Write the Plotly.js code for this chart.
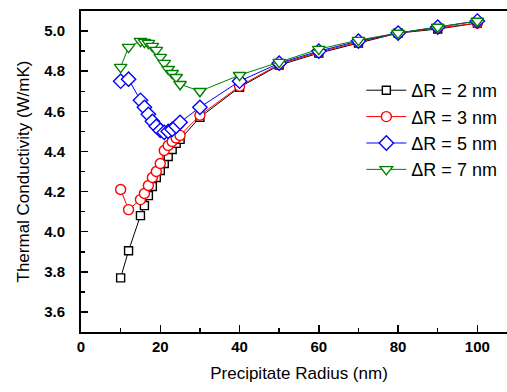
<!DOCTYPE html>
<html>
<head>
<meta charset="utf-8">
<script src="https://cdn.plot.ly/plotly-3.0.1.min.js"></script>
<style>
html,body{margin:0;padding:0;overflow:hidden;background:#fff;}
#chart{width:517px;height:392px;}
</style>
</head>
<body>
<div id="chart"></div>
<script>
var radius = [10,12,15,16,17,18,19,20,21,22,23,24,25,30,40,50,60,70,80,90,100];
var dR2 = [3.77,3.905,4.08,4.13,4.18,4.225,4.27,4.305,4.34,4.375,4.41,4.44,4.46,4.57,4.72,4.83,4.89,4.94,4.99,5.01,5.04];
var dR3 = [4.21,4.11,4.16,4.19,4.23,4.27,4.30,4.34,4.405,4.43,4.45,4.467,4.48,4.58,4.725,4.835,4.895,4.945,4.99,5.015,5.04];
var dR5 = [4.75,4.76,4.655,4.62,4.585,4.55,4.525,4.505,4.495,4.50,4.51,4.525,4.545,4.62,4.75,4.84,4.90,4.95,4.99,5.02,5.05];
var dR7 = [4.82,4.92,4.95,4.945,4.94,4.925,4.905,4.87,4.84,4.81,4.79,4.77,4.735,4.70,4.78,4.845,4.91,4.955,4.99,5.02,5.05];
var seriesNames = ['\u0394R = 2 nm','\u0394R = 3 nm','\u0394R = 5 nm','\u0394R = 7 nm'];
var xTicks = [0,20,40,60,80,100];
var yTicks = [3.6,3.8,4.0,4.2,4.4,4.6,4.8,5.0];

function tr(y, name, color, symbol, size){
  return {x: radius, y: y, name: name, type:'scatter', mode:'lines+markers',
    line:{color:color, width:1},
    marker:{symbol:symbol, size:size, color:'#ffffff', line:{color:color, width:1.4}}};
}
var data = [
  tr(dR2, seriesNames[0], '#000000', 'square', 8),
  tr(dR3, seriesNames[1], '#ff0000', 'circle', 10),
  tr(dR5, seriesNames[2], '#0000ff', 'diamond', 11),
  tr(dR7, seriesNames[3], '#008000', 'triangle-down', 11)
];
var fontFam = '"Liberation Sans", Arial, sans-serif';
var layout = {
  width:517, height:392,
  margin:{l:81, r:0, t:11, b:60},
  paper_bgcolor:'#fff', plot_bgcolor:'#fff',
  showlegend:true,
  legend:{x:0.643, y:0.81, xanchor:'left', yanchor:'top', bgcolor:'rgba(0,0,0,0)',
    font:{family:fontFam, size:18, color:'#000'}, tracegroupgap:0, itemwidth:40},
  xaxis:{range:[0,110], tickvals:xTicks, ticktext:xTicks.map(String),
    ticks:'inside', ticklen:7, tickwidth:1.5, tickcolor:'#000',
    minor:{dtick:10, ticks:'inside', ticklen:4, tickwidth:1.5, tickcolor:'#000'},
    showline:true, linewidth:2, linecolor:'#000', mirror:true,
    showgrid:false, zeroline:false,
    tickfont:{family:fontFam, size:15, color:'#000', weight:'bold'},
    title:{text:'Precipitate Radius (nm)', font:{family:fontFam, size:17, color:'#000'}, standoff:13}},
  yaxis:{range:[3.5,5.1], tickvals:yTicks, ticktext:yTicks.map(function(v){return v.toFixed(1);}),
    ticks:'inside', ticklen:7, tickwidth:1.5, tickcolor:'#000',
    minor:{dtick:0.1, ticks:'inside', ticklen:4, tickwidth:1.5, tickcolor:'#000'},
    showline:true, linewidth:2, linecolor:'#000', mirror:false,
    showgrid:false, zeroline:false, ticklabelstandoff:11,
    tickfont:{family:fontFam, size:15, color:'#000', weight:'bold'},
    title:{text:'Thermal Conductivity (W/mK)', font:{family:fontFam, size:17, color:'#000'}, standoff:10}}
};
Plotly.newPlot('chart', data, layout, {displayModeBar:false, staticPlot:true});
</script>
</body>
</html>
